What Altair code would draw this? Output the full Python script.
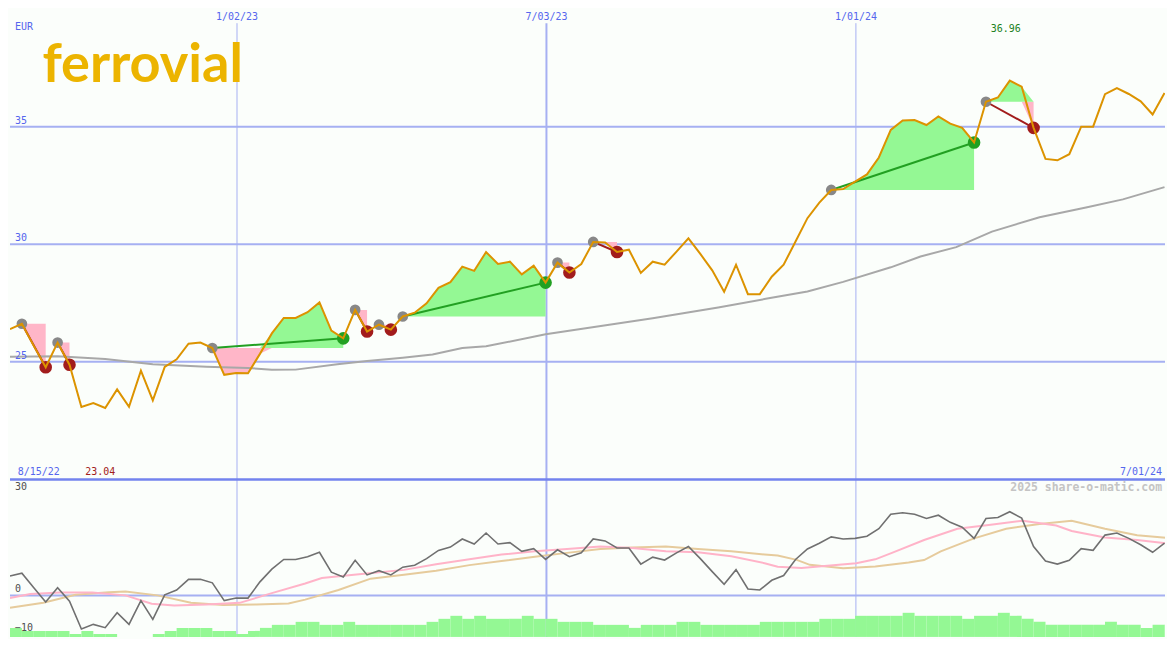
import altair as alt
import pandas as pd

# ---------------- data ----------------
price = [26.39, 26.62, 25.68, 24.77, 25.82, 24.88, 23.08, 23.25, 23.04, 23.83,
         23.09, 24.63, 23.36, 24.79, 25.11, 25.77, 25.82, 25.59, 24.45, 24.53,
         24.52, 25.34, 26.21, 26.87, 26.87, 27.11, 27.53, 26.33, 26.00, 27.21,
         26.29, 26.58, 26.37, 26.93, 27.09, 27.49, 28.15, 28.39, 29.05, 28.87,
         29.67, 29.16, 29.26, 28.72, 29.09, 28.37, 29.22, 28.80, 29.16, 30.10,
         30.08, 29.67, 29.77, 28.78, 29.26, 29.13, 29.69, 30.25, 29.59, 28.89,
         27.98, 29.13, 27.88, 27.88, 28.62, 29.13, 30.12, 31.11, 31.77, 32.31,
         32.35, 32.66, 32.97, 33.69, 34.86, 35.26, 35.28, 35.07, 35.44, 35.13,
         34.95, 34.33, 36.06, 36.24, 36.96, 36.70, 34.95, 33.63, 33.57, 33.83,
         35.00, 35.00, 36.38, 36.64, 36.39, 36.08, 35.52, 36.43]

osc = [5.0, 5.75, 2.0, -1.7, 2.0, -1.5, -8.7, -7.5, -8.35, -4.5,
       -7.5, -1.35, -6.2, 0.15, 1.4, 4.15, 4.15, 3.25, -1.35, -0.7,
       -0.7, 3.5, 6.8, 9.3, 9.3, 10.0, 11.15, 6.0, 4.75, 9.1,
       5.3, 6.4, 5.3, 7.3, 7.8, 9.5, 11.65, 12.5, 14.6, 13.3,
       16.15, 13.3, 13.65, 11.4, 12.1, 9.3, 11.8, 10.0, 11.0, 14.6,
       14.1, 12.25, 12.25, 8.1, 9.9, 9.15, 11.0, 12.65, 9.5, 6.15,
       2.9, 6.65, 1.65, 1.4, 3.9, 5.15, 9.3, 12.0, 13.5, 15.15,
       14.6, 14.75, 15.3, 17.25, 21.0, 21.4, 21.0, 19.9, 20.75, 18.9,
       17.65, 14.75, 19.9, 20.15, 21.65, 20.0, 12.65, 8.9, 8.1, 9.1,
       12.1, 11.65, 15.6, 16.15, 14.75, 13.1, 11.15, 13.5]

vol_level = [3, 2, 2, 2, 2, 1, 2, 1, 1, 0,
             0, 0, 1, 2, 3, 3, 3, 2, 2, 1,
             2, 3, 4, 4, 5, 5, 4, 4, 5, 4,
             4, 4, 4, 4, 4, 5, 6, 7, 6, 7,
             6, 6, 6, 7, 6, 6, 5, 5, 5, 4,
             4, 4, 3, 4, 4, 4, 5, 5, 4, 4,
             4, 4, 4, 5, 5, 5, 5, 5, 6, 6,
             6, 7, 7, 7, 7, 8, 7, 7, 7, 7,
             6, 7, 7, 8, 7, 6, 5, 4, 4, 4,
             4, 4, 5, 4, 4, 3, 4, 4]

ma_week = [0, 4, 8, 12, 16.5, 20, 22, 24, 27.5, 30, 33, 35.5, 38, 40, 45, 54,
           59.5, 63.5, 67, 70, 74, 76.5, 79.5, 82.5, 86.5, 90.5, 93.5, 97]
ma_value = [25.22, 25.24, 25.12, 24.90, 24.79, 24.74, 24.66, 24.67, 24.90, 25.04,
            25.18, 25.31, 25.59, 25.66, 26.17, 26.85, 27.31, 27.68, 27.99, 28.40,
            29.02, 29.48, 29.88, 30.54, 31.15, 31.57, 31.91, 32.43]

pink_week = [0, 1.7, 4.2, 6.9, 9.7, 11.9, 13.8, 16.5, 19.3, 22.0, 24.8, 26.2, 28.9,
             33.1, 35.8, 38.6, 41.3, 44.1, 46.8, 49.6, 52.3, 55.1, 57.8, 60.6, 63.4,
             64.5, 66.5, 71.1, 72.7, 74.1, 76.8, 79.6, 82.4, 85.1, 87.9, 89.2, 92.0,
             94.7, 97.1]
pink_value = [-0.68, 0.33, 0.75, 0.75, 0.0, -2.18, -2.6, -2.35, -1.93, 0.58, 3.08, 4.5,
              5.33, 6.6, 8.08, 9.33, 10.58, 11.4, 12.0, 12.65, 12.25, 11.4, 11.15, 10.15,
              8.33, 7.4, 7.1, 8.33, 9.33, 11.0, 14.33, 17.25, 18.25, 19.33, 18.08, 16.65,
              15.0, 14.33, 13.5]

tan_week = [0, 2.8, 5.5, 8.3, 9.7, 12.4, 15.2, 17.9, 20.7, 23.4, 24.8, 27.6, 30.3,
            33.1, 35.8, 38.6, 41.3, 44.1, 46.8, 49.6, 52.3, 55.1, 57.8, 60.6, 63.4,
            64.5, 66.1, 67.2, 70.0, 72.7, 75.5, 76.8, 78.2, 81.0, 83.7, 86.5, 89.2,
            92.0, 94.7, 97.1]
tan_value = [-3.18, -1.93, 0.15, 0.83, 1.0, 0.0, -1.93, -2.5, -2.35, -2.1, -1.1, 1.4,
             4.33, 5.33, 6.4, 7.83, 8.9, 10.0, 11.0, 12.0, 12.4, 12.65, 12.0, 11.4,
             10.58, 10.3, 9.2, 7.9, 7.0, 7.5, 8.5, 9.15, 11.4, 14.75, 17.25, 18.5,
             19.33, 17.25, 15.58, 14.9]

entry_idx = [1, 4, 17, 29, 31, 33, 46, 49, 69, 82]
exit_idx = [3, 5, 28, 30, 32, 45, 47, 51, 81, 86]

grid_dates = ["2023-01-02", "2023-07-03", "2024-01-01"]
grid_labels = ["1/02/23", "7/03/23", "1/01/24"]
price_ticks = [25, 30, 35]
osc_ticks = [30, 0, -10]
osc_grid = [0]
first_label = "8/15/22"
last_label = "7/01/24"
currency = "EUR"
brand = "ferrovial"
credit = "2025 share-o-matic.com"

# ---------------- layout / style ----------------
W, H1, H2 = 1159, 472, 158
SX = W / 1175
SY = (H1 + H2) / 650
BG = "#fbfefb"
BLUE_TXT = "#5566ee"
GRID = "#a6b0f2"
SEP = "#7383ee"
FONT = "DejaVu Sans Mono"
OSC_BOT = -10.75
LVL_STEP = 0.78
grid_widths = [1, 2, 1]

START = pd.Timestamp("2022-08-21 12:00")
END = pd.Timestamp("2024-06-30 19:00")


def wk(w):
    return START + pd.Timedelta(days=7 * w)


def dt(ts):
    return alt.DateTime(year=ts.year, month=ts.month, date=ts.day, hours=ts.hour)


xs = alt.Scale(domain=[dt(START), dt(END)], nice=False, padding=0)
ys_top = alt.Scale(domain=[20, 40], nice=False, zero=False, padding=0)
ys_bot = alt.Scale(domain=[OSC_BOT, 30], nice=False, zero=False, padding=0)


def X(f):
    return alt.X(f, type="temporal", scale=xs, axis=None)


def XD(ts):
    return alt.XDatum(dt(ts), type="temporal", scale=xs, axis=None)


def YT(f):
    return alt.Y(f, type="quantitative", scale=ys_top, axis=None)


def YTD(v):
    return alt.YDatum(v, type="quantitative", scale=ys_top, axis=None)


def YB(f):
    return alt.Y(f, type="quantitative", scale=ys_bot, axis=None)


def YBD(v):
    return alt.YDatum(v, type="quantitative", scale=ys_bot, axis=None)


n = len(price)
main = pd.DataFrame({
    "date": [wk(i) for i in range(n)],
    "next": [wk(i + 1) for i in range(n)],
    "price": price,
    "osc": osc,
    "lvl": vol_level,
})

rows = []
for t, (a, b) in enumerate(zip(entry_idx, exit_idx)):
    e = price[a]
    for k in range(a, b + 1):
        rows.append({"trade": t, "date": wk(k), "price": price[k], "entry": e})
fill = pd.DataFrame(rows)
fill["hi"] = fill[["price", "entry"]].max(axis=1)
fill["lo"] = fill[["price", "entry"]].min(axis=1)

trades = pd.DataFrame({
    "d0": [wk(a) for a in entry_idx],
    "d1": [wk(b) for b in exit_idx],
    "p0": [price[a] for a in entry_idx],
    "p1": [price[b] for b in exit_idx],
})
trades["res"] = ["win" if p1 > p0 else "loss" for p0, p1 in zip(trades.p0, trades.p1)]

ma = pd.DataFrame({"date": [wk(w) for w in ma_week], "v": ma_value})
pink = pd.DataFrame({"date": [wk(w) for w in pink_week], "v": pink_value})
tan = pd.DataFrame({"date": [wk(w) for w in tan_week], "v": tan_value})
gd = pd.DataFrame({"date": [pd.Timestamp(d) for d in grid_dates], "label": grid_labels})

imax = max(range(n), key=lambda i: price[i])
imin = min(range(n), key=lambda i: price[i])

res_color = alt.Color("res:N", scale=alt.Scale(domain=["win", "loss"],
                                               range=["#22a022", "#a21c1c"]), legend=None)

# ---------------- top panel ----------------
top_layers = []
top_layers.append(alt.Chart(pd.DataFrame({"v": price_ticks})).mark_rule(
    color=GRID, strokeWidth=2).encode(y=YT("v")))
for d, w in zip(grid_dates, grid_widths):
    top_layers.append(alt.Chart(pd.DataFrame({"date": [pd.Timestamp(d)]})).mark_rule(
        color=GRID, strokeWidth=w).encode(x=X("date"), y=YTD(39.4), y2=alt.Y2Datum(20)))
top_layers.append(alt.Chart(fill).mark_area(color="#ffb6c8", opacity=1, clip=True).encode(
    x=X("date"), y=YT("lo"), y2=alt.Y2(field="entry"), detail="trade:N"))
top_layers.append(alt.Chart(fill).mark_area(color="#94f894", opacity=1, clip=True).encode(
    x=X("date"), y=YT("hi"), y2=alt.Y2(field="entry"), detail="trade:N"))
top_layers.append(alt.Chart(ma).mark_line(color="#a8a8a8", strokeWidth=2, clip=True).encode(
    x=X("date"), y=YT("v")))
top_layers.append(alt.Chart(trades).mark_rule(strokeWidth=2).encode(
    x=X("d0"), x2=alt.X2(field="d1"), y=YT("p0"), y2=alt.Y2(field="p1"), color=res_color))
top_layers.append(alt.Chart(trades).mark_circle(size=115, opacity=1, color="#888888").encode(
    x=X("d0"), y=YT("p0")))
top_layers.append(alt.Chart(trades).mark_circle(size=160, opacity=1).encode(
    x=X("d1"), y=YT("p1"), color=res_color))
top_layers.append(alt.Chart(main).mark_line(color="#dc9300", strokeWidth=2, clip=True).encode(
    x=X("date"), y=YT("price")))

# texts
top_layers.append(alt.Chart(pd.DataFrame({"t": [brand]})).mark_text(
    font="Lato", fontWeight=700, fontSize=56 * SY, color="#ecb400", align="left",
    baseline="alphabetic", dx=33 * SX, dy=76 * SY).encode(x=XD(START), y=YTD(40), text="t:N"))
top_layers.append(alt.Chart(pd.DataFrame({"t": [currency]})).mark_text(
    font=FONT, fontSize=10, color=BLUE_TXT, align="left", baseline="top",
    dx=5 * SX, dy=13 * SY).encode(x=XD(START), y=YTD(40), text="t:N"))
top_layers.append(alt.Chart(gd).mark_text(
    font=FONT, fontSize=10, color=BLUE_TXT, align="center", baseline="top",
    dy=3 * SY).encode(x=X("date"), y=YTD(40), text="label:N"))
top_layers.append(alt.Chart(pd.DataFrame({"v": price_ticks})).mark_text(
    font=FONT, fontSize=10, color=BLUE_TXT, align="left", baseline="bottom",
    dx=5 * SX, dy=-1).encode(x=XD(START), y=YT("v"), text=alt.Text("v:Q", format="d")))
top_layers.append(alt.Chart(pd.DataFrame({"date": [wk(imax)], "t": [f"{price[imax]:.2f}"]})).mark_text(
    font=FONT, fontSize=10, color="#208020", align="center", baseline="top",
    dx=-4 * SX, dy=15 * SY).encode(x=X("date"), y=YTD(40), text="t:N"))
top_layers.append(alt.Chart(pd.DataFrame({"date": [wk(imin)], "t": [f"{price[imin]:.2f}"]})).mark_text(
    font=FONT, fontSize=10, color="#a21c1c", align="center", baseline="bottom",
    dx=-5 * SX, dy=-3 * SY).encode(x=X("date"), y=YTD(20), text="t:N"))
top_layers.append(alt.Chart(pd.DataFrame({"t": [first_label]})).mark_text(
    font=FONT, fontSize=10, color=BLUE_TXT, align="left", baseline="bottom",
    dx=8 * SX, dy=-3 * SY).encode(x=XD(START), y=YTD(20), text="t:N"))
top_layers.append(alt.Chart(pd.DataFrame({"t": [last_label]})).mark_text(
    font=FONT, fontSize=10, color=BLUE_TXT, align="right", baseline="bottom",
    dx=-3 * SX, dy=-3 * SY).encode(x=XD(END), y=YTD(20), text="t:N"))

top = alt.layer(*top_layers).properties(width=W, height=H1)

# ---------------- bottom panel ----------------
bot_layers = []
for d, w in zip(grid_dates, grid_widths):
    bot_layers.append(alt.Chart(pd.DataFrame({"date": [pd.Timestamp(d)]})).mark_rule(
        color=GRID, strokeWidth=w).encode(x=X("date")))
bot_layers.append(alt.Chart(pd.DataFrame({"v": osc_grid})).mark_rule(
    color=GRID, strokeWidth=2).encode(y=YB("v")))
bot_layers.append(alt.Chart(main).transform_calculate(
    top=f"{OSC_BOT} + {LVL_STEP} * datum.lvl").mark_rect(color="#94f894", clip=True).encode(
    x=X("date"), x2=alt.X2(field="next"), y=YB("top"), y2=alt.Y2Datum(OSC_BOT)))
bot_layers.append(alt.Chart(pd.DataFrame({"v": [30]})).mark_rule(
    color=SEP, strokeWidth=2.5).encode(y=YB("v")))
bot_layers.append(alt.Chart(tan).mark_line(color="#e6cb9c", strokeWidth=2, clip=True).encode(
    x=X("date"), y=YB("v")))
bot_layers.append(alt.Chart(pink).mark_line(color="#ffb3c8", strokeWidth=2, clip=True).encode(
    x=X("date"), y=YB("v")))
bot_layers.append(alt.Chart(main).mark_line(color="#707070", strokeWidth=1.6, clip=True).encode(
    x=X("date"), y=YB("osc")))
ot = pd.DataFrame({"v": osc_ticks})
bot_layers.append(alt.Chart(ot).transform_filter("datum.v == 30").mark_text(
    font=FONT, fontSize=10, color="#505050", align="left", baseline="top",
    dx=5 * SX, dy=3 * SY).encode(x=XD(START), y=YB("v"), text=alt.Text("v:Q", format="d")))
bot_layers.append(alt.Chart(ot).transform_filter("datum.v < 30").mark_text(
    font=FONT, fontSize=10, color="#505050", align="left", baseline="bottom",
    dx=5 * SX, dy=-1).encode(x=XD(START), y=YB("v"), text=alt.Text("v:Q", format="d")))
bot_layers.append(alt.Chart(pd.DataFrame({"t": [credit]})).mark_text(
    font=FONT, fontSize=11.5, fontWeight="bold", color="#c4c4c4", align="right",
    baseline="top", dx=-3 * SX, dy=3 * SY).encode(x=XD(END), y=YBD(30), text="t:N"))

bottom = alt.layer(*bot_layers).properties(width=W, height=H2)

chart = alt.vconcat(top, bottom, spacing=0, bounds="flush").properties(
    padding=0, background=BG).configure_view(stroke=None)

chart.save("out.html", embed_options={"renderer": "svg", "actions": False})
